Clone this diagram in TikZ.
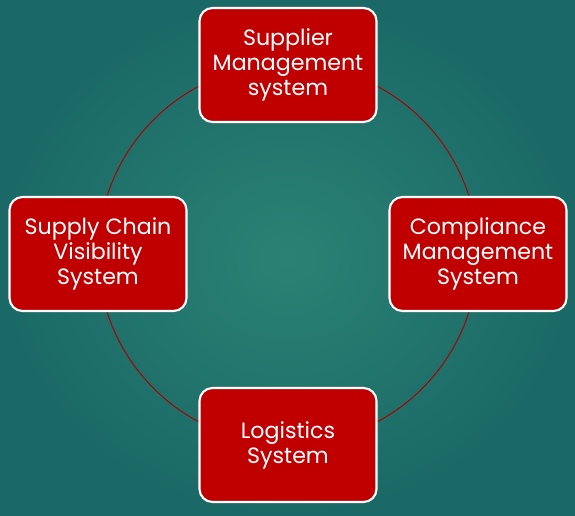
\documentclass[tikz,border=0pt]{standalone}
\usepackage{fontspec}
\setmainfont{Poppins}
\definecolor{boxred}{HTML}{C00000}
\definecolor{ringred}{HTML}{A00808}
\definecolor{tealin}{HTML}{2B8274}
\definecolor{tealout}{HTML}{1A6966}
\tikzset{
    sysbox/.style={rectangle,rounded corners=0.26cm,draw=white,line width=1.2pt,fill=boxred,
        text=white,minimum width=3.54cm,minimum height=2.28cm,align=center,
        font=\fontsize{12.6}{14.2}\selectfont}
}
\begin{document}
\begin{tikzpicture}[x=0.02cm,y=0.02cm]
            \shade[inner color=tealin,outer color=tealout] (0,0) rectangle (575,515);
            \useasboundingbox (0,0) rectangle (575,515);
            \coordinate (hub) at (288,261);
            \draw[ringred,line width=0.6pt] (hub) circle (190);
            \node[sysbox] (supplier) at (288,450) {Supplier\\Management\\system};
            \node[sysbox] (visibility) at (98,261) {Supply Chain\\Visibility\\System};
            \node[sysbox] (compliance) at (478,261) {Compliance\\Management\\System};
            \node[sysbox] (logistics) at (288,70) {Logistics\\System};
        \end{tikzpicture}
\end{document}
